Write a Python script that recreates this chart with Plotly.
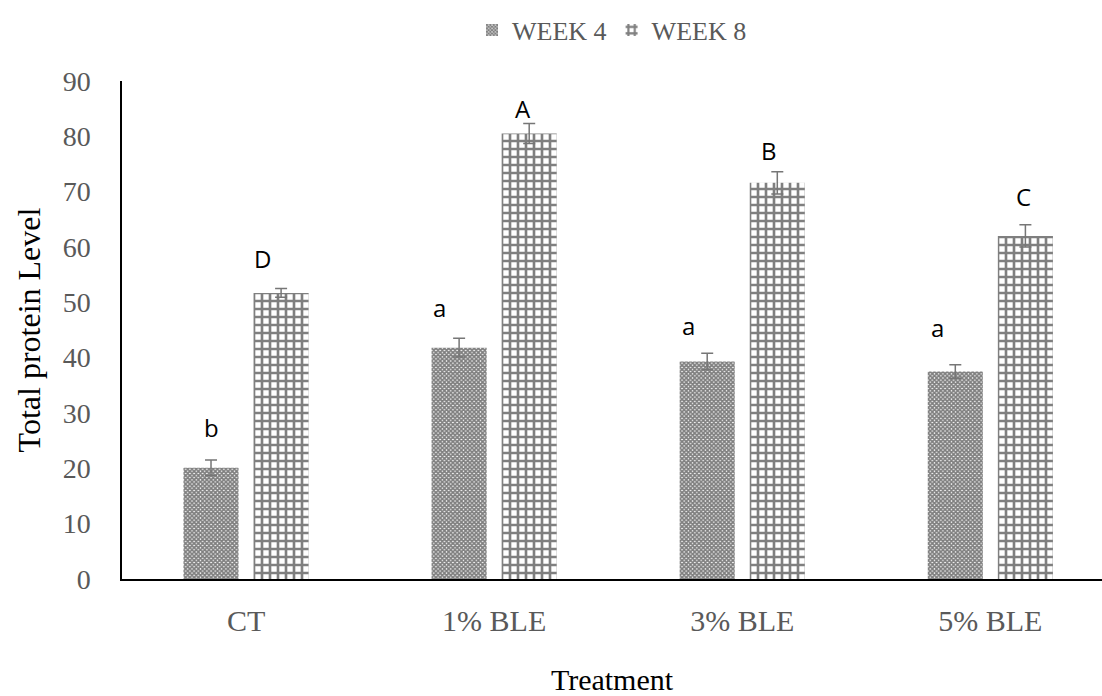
import plotly.graph_objects as go

categories = ["CT", "1% BLE", "3% BLE", "5% BLE"]
week4 = [20.1, 41.8, 39.3, 37.5]
week4_err = [1.4, 1.7, 1.5, 1.2]
week8 = [51.7, 80.5, 71.6, 62.0]
week8_err = [0.8, 1.8, 2.0, 2.0]
week4_letters = ["b", "a", "a", "a"]
week8_letters = ["D", "A", "B", "C"]
week4_letter_y = [27.3, 49.0, 45.9, 45.4]
week8_letter_y = [58.0, 85.1, 77.5, 69.2]
week4_letter_dx = [0, -20, -19, -18]
week8_letter_dx = [-19, -6, -8, -2]

xi = list(range(len(categories)))
serif = "Liberation Serif, Times New Roman, serif"
grey = "#595959"

fig = go.Figure()
fig.add_trace(go.Bar(
    name="WEEK 4", x=xi, y=week4,
    marker=dict(color="white", line=dict(width=0),
                pattern=dict(shape="x", size=3, solidity=0.8, fgcolor="black", bgcolor="white")),
    error_y=dict(type="data", array=week4_err, color="#767676", thickness=1.5, width=6),
))
fig.add_trace(go.Bar(
    name="WEEK 8", x=xi, y=week8,
    marker=dict(color="white", line=dict(width=0),
                pattern=dict(shape="+", size=8, solidity=0.55, fgcolor="black", bgcolor="white")),
    error_y=dict(type="data", array=week8_err, color="#767676", thickness=1.5, width=6),
))

off = 0.141
for i in xi:
    fig.add_annotation(x=i - off, y=week4_letter_y[i], text=week4_letters[i], showarrow=False,
                       xshift=week4_letter_dx[i], font=dict(family="Open Sans, sans-serif", size=24, color="black"))
    fig.add_annotation(x=i + off, y=week8_letter_y[i], text=week8_letters[i], showarrow=False,
                       xshift=week8_letter_dx[i], font=dict(family="Open Sans, sans-serif", size=24, color="black"))

fig.update_layout(
    width=1102, height=696,
    margin=dict(l=122, r=0, t=81, b=117),
    paper_bgcolor="white", plot_bgcolor="white",
    barmode="group", bargap=0.435, bargroupgap=0.214,
    showlegend=True,
    legend=dict(orientation="h", x=0.5, xanchor="center", y=1.102, yanchor="middle",
                font=dict(family=serif, size=26, color=grey), itemwidth=30),
    xaxis=dict(
        tickmode="array", tickvals=xi, ticktext=categories, automargin=False,
        range=[-0.5, 3.45], showline=True, linecolor="black", linewidth=1.5,
        showgrid=False, ticks="", zeroline=False,
        tickfont=dict(family=serif, size=30, color=grey), ticklabelstandoff=14,
        title=dict(text="Treatment", font=dict(family=serif, size=30, color="black"), standoff=40),
    ),
    yaxis=dict(
        range=[0, 90], dtick=10, showline=True, linecolor="black", linewidth=1.5,
        showgrid=False, ticks="", zeroline=False, automargin=False,
        tickfont=dict(family=serif, size=28, color=grey), ticklabelstandoff=24,
        title=dict(text="Total protein Level", font=dict(family=serif, size=32, color="black"), standoff=12),
    ),
)

fig.write_html("out.html", config={"displayModeBar": False},
               post_script="document.body.style.margin='0';")
